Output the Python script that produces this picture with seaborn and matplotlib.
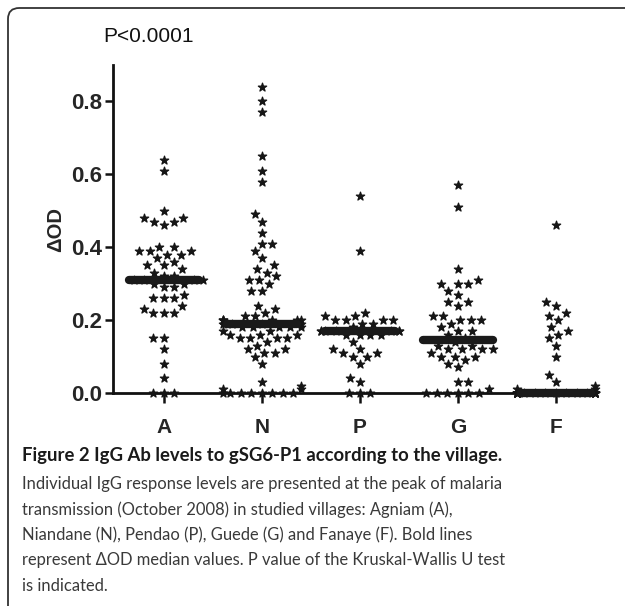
import numpy as np
import pandas as pd
import matplotlib
matplotlib.use("Agg")
import matplotlib.pyplot as plt
import seaborn as sns
from matplotlib.patches import FancyBboxPatch

villages = ["A", "N", "P", "G", "F"]

vals_A = [0.64, 0.61, 0.50, 0.48, 0.48, 0.47, 0.47, 0.46, 0.40, 0.40, 0.39, 0.39,
          0.39, 0.38, 0.38, 0.37, 0.36, 0.35, 0.35, 0.34, 0.33, 0.32, 0.32, 0.31,
          0.31, 0.31, 0.31, 0.30, 0.30, 0.29, 0.29, 0.27, 0.26, 0.26, 0.26, 0.24,
          0.23, 0.22, 0.22, 0.22, 0.15, 0.15, 0.12, 0.08, 0.04, 0.0, 0.0, 0.0]
vals_N = [0.84, 0.80, 0.77, 0.65, 0.61, 0.58, 0.49, 0.47, 0.44, 0.41, 0.41, 0.39,
          0.37, 0.35, 0.34, 0.33, 0.32, 0.31, 0.31, 0.30, 0.28, 0.28, 0.24, 0.23,
          0.22, 0.21, 0.21, 0.20, 0.20, 0.20, 0.20, 0.20, 0.20, 0.19, 0.19, 0.19,
          0.19, 0.18, 0.18, 0.18, 0.18, 0.18, 0.17, 0.17, 0.16, 0.16, 0.16, 0.15,
          0.15, 0.15, 0.15, 0.14, 0.13, 0.12, 0.12, 0.11, 0.11, 0.10, 0.08, 0.03,
          0.02, 0.01, 0.01, 0.0, 0.0, 0.0, 0.0, 0.0, 0.0, 0.0, 0.0]
vals_P = [0.54, 0.39, 0.22, 0.21, 0.21, 0.20, 0.20, 0.20, 0.20, 0.19, 0.19, 0.18,
          0.17, 0.17, 0.17, 0.17, 0.17, 0.17, 0.17, 0.16, 0.16, 0.16, 0.16, 0.14,
          0.12, 0.12, 0.11, 0.11, 0.10, 0.10, 0.08, 0.04, 0.03, 0.0, 0.0, 0.0]
vals_G = [0.57, 0.51, 0.34, 0.31, 0.30, 0.30, 0.30, 0.28, 0.27, 0.25, 0.25, 0.24,
          0.21, 0.21, 0.20, 0.20, 0.20, 0.19, 0.18, 0.17, 0.17, 0.16, 0.15, 0.14,
          0.13, 0.13, 0.12, 0.12, 0.12, 0.12, 0.11, 0.10, 0.10, 0.10, 0.09, 0.08,
          0.07, 0.03, 0.03, 0.01, 0.0, 0.0, 0.0, 0.0, 0.0, 0.0]
vals_F = [0.46, 0.25, 0.24, 0.22, 0.21, 0.20, 0.18, 0.17, 0.16, 0.15, 0.13, 0.10,
          0.05, 0.03, 0.02, 0.01, 0.01] + [0.0] * 20

y_ticks = [0.0, 0.2, 0.4, 0.6, 0.8]
p_text = "P<0.0001"
y_label = "\u0394OD"
caption_title = "Figure 2 IgG Ab levels to gSG6-P1 according to the village."
caption_body = [
    "Individual IgG response levels are presented at the peak of malaria",
    "transmission (October 2008) in studied villages: Agniam (A),",
    "Niandane (N), Pendao (P), Guede (G) and Fanaye (F). Bold lines",
    "represent \u0394OD median values. P value of the Kruskal-Wallis U test",
    "is indicated.",
]

groups = [vals_A, vals_N, vals_P, vals_G, vals_F]
df = pd.DataFrame({
    "village": np.concatenate([[v] * len(g) for v, g in zip(villages, groups)]),
    "od": np.concatenate(groups),
})

sns.set_theme(style="white")
plt.rcParams["font.family"] = ["Liberation Sans", "DejaVu Sans"]

fig = plt.figure(figsize=(6.25, 6.06), dpi=100)
W, H = 625, 606

# rounded frame
frame = FancyBboxPatch((8 / W, -20 / H), 700 / W, (606 - 8 + 20) / H,
                       boxstyle="round,pad=0,rounding_size=0.018",
                       transform=fig.transFigure, fill=False,
                       edgecolor="#333333", linewidth=1.3)
fig.patches.append(frame)

ax = fig.add_axes([113 / W, 1 - 393 / H, (595 - 113) / W, (393 - 65) / H])

sns.swarmplot(data=df, x="village", y="od", order=villages, ax=ax,
              marker="*", color="#151515", size=6.3, linewidth=0.9,
              edgecolor="#151515", clip_on=False)

meds = df.groupby("village")["od"].median().reindex(villages)
for i, m in enumerate(meds.values):
    ax.plot([i - 0.36, i + 0.36], [m, m], color="#1a1a1a", lw=6,
            solid_capstyle="round", zorder=5, clip_on=False)

ax.set_ylim(0, 0.9)
ax.set_xlim(-0.52, 4.4)
ax.set_yticks(y_ticks)
ax.set_yticklabels([f"{t:.1f}" for t in y_ticks], fontsize=16, fontweight="bold")
ax.set_xticks(range(len(villages)))
ax.set_xticklabels(villages, fontsize=15, fontweight="bold")
ax.set_xlabel("")
ax.set_ylabel(y_label, fontsize=14.5, fontweight="bold", labelpad=4)
for s in ["top", "right"]:
    ax.spines[s].set_visible(False)
for s in ["left", "bottom"]:
    ax.spines[s].set_linewidth(2)
    ax.spines[s].set_color("#111111")
ax.tick_params(axis="both", direction="out", length=6, width=1.8, color="#111111",
               left=True, bottom=True, pad=2)
ax.tick_params(axis="x", length=7, pad=11)
ax.patch.set_alpha(0)

fig.text(103 / W, 1 - 36 / H, p_text, fontsize=15, va="center", ha="left",
         color="#111111")

cap_font = ["Lato", "DejaVu Sans"]
fig.text(22 / W, 1 - 455 / H, caption_title, fontsize=13.3, fontweight="bold",
         va="center", ha="left", color="#1a1a1a", family=cap_font)
for k, line in enumerate(caption_body):
    fig.text(22 / W, 1 - (484 + 25.5 * k) / H, line, fontsize=11.9,
             va="center", ha="left", color="#3a3a3a", family=cap_font)

fig.savefig("out.png", dpi=100)
